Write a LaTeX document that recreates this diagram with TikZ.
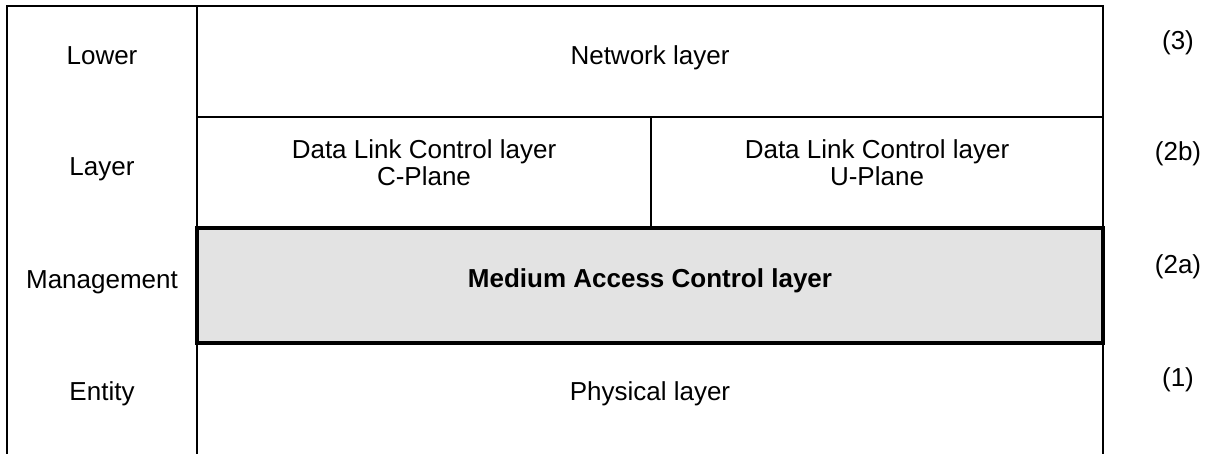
\documentclass[tikz,border=0pt]{standalone}
\usepackage{fontspec}
\setmainfont{Liberation Sans}
\usepackage{tikz}
\definecolor{macgray}{RGB}{227,227,227}

\begin{document}
\begin{tikzpicture}[x=1pt,y=-1pt]
  \tikzstyle{frame}=[line width=2.4pt,line cap=rect]
  \tikzstyle{mac box}=[line width=3.6pt,fill=macgray]
  \tikzstyle{txt}=[inner sep=0pt,anchor=base,align=center,
  		   font=\fontsize{26pt}{27pt}\selectfont]
  \tikzstyle{num}=[txt]

  \useasboundingbox (0,0) rectangle (1214,453);

  \draw [mac box] (197,228) rectangle (1103,343);
  \draw [frame] (7,453) -- (7,6) -- (1103,6) -- (1103,228);
  \draw [frame] (1103,343) -- (1103,453);
  \draw [frame] (197,6) -- (197,228);
  \draw [frame] (197,343) -- (197,453);
  \draw [frame] (197,117) -- (1103,117);
  \draw [frame] (651,117) -- (651,228);

  \node [txt] (lower) at (102,64)  {Lower};
  \node [txt] (layer) at (102,175) {Layer};
  \node [txt] (mgmt)  at (102,288) {Management};
  \node [txt] (ent)   at (102,400) {Entity};

  \node [txt] (net)  at (650,64)  {Network layer};
  \node [txt] (dlcc) at (424,185) {Data Link Control layer\\C-Plane};
  \node [txt] (dlcu) at (877,185) {Data Link Control layer\\U-Plane};
  \node [txt,font=\fontsize{26pt}{27pt}\selectfont\bfseries] (mac) at (650,287) {Medium Access Control layer};
  \node [txt] (phy)  at (650,400) {Physical layer};

  \node [num] (n3)  at (1178,49)  {(3)};
  \node [num] (n2b) at (1178,160) {(2b)};
  \node [num] (n2a) at (1178,273) {(2a)};
  \node [num] (n1)  at (1178,386) {(1)};
\end{tikzpicture}
\end{document}
